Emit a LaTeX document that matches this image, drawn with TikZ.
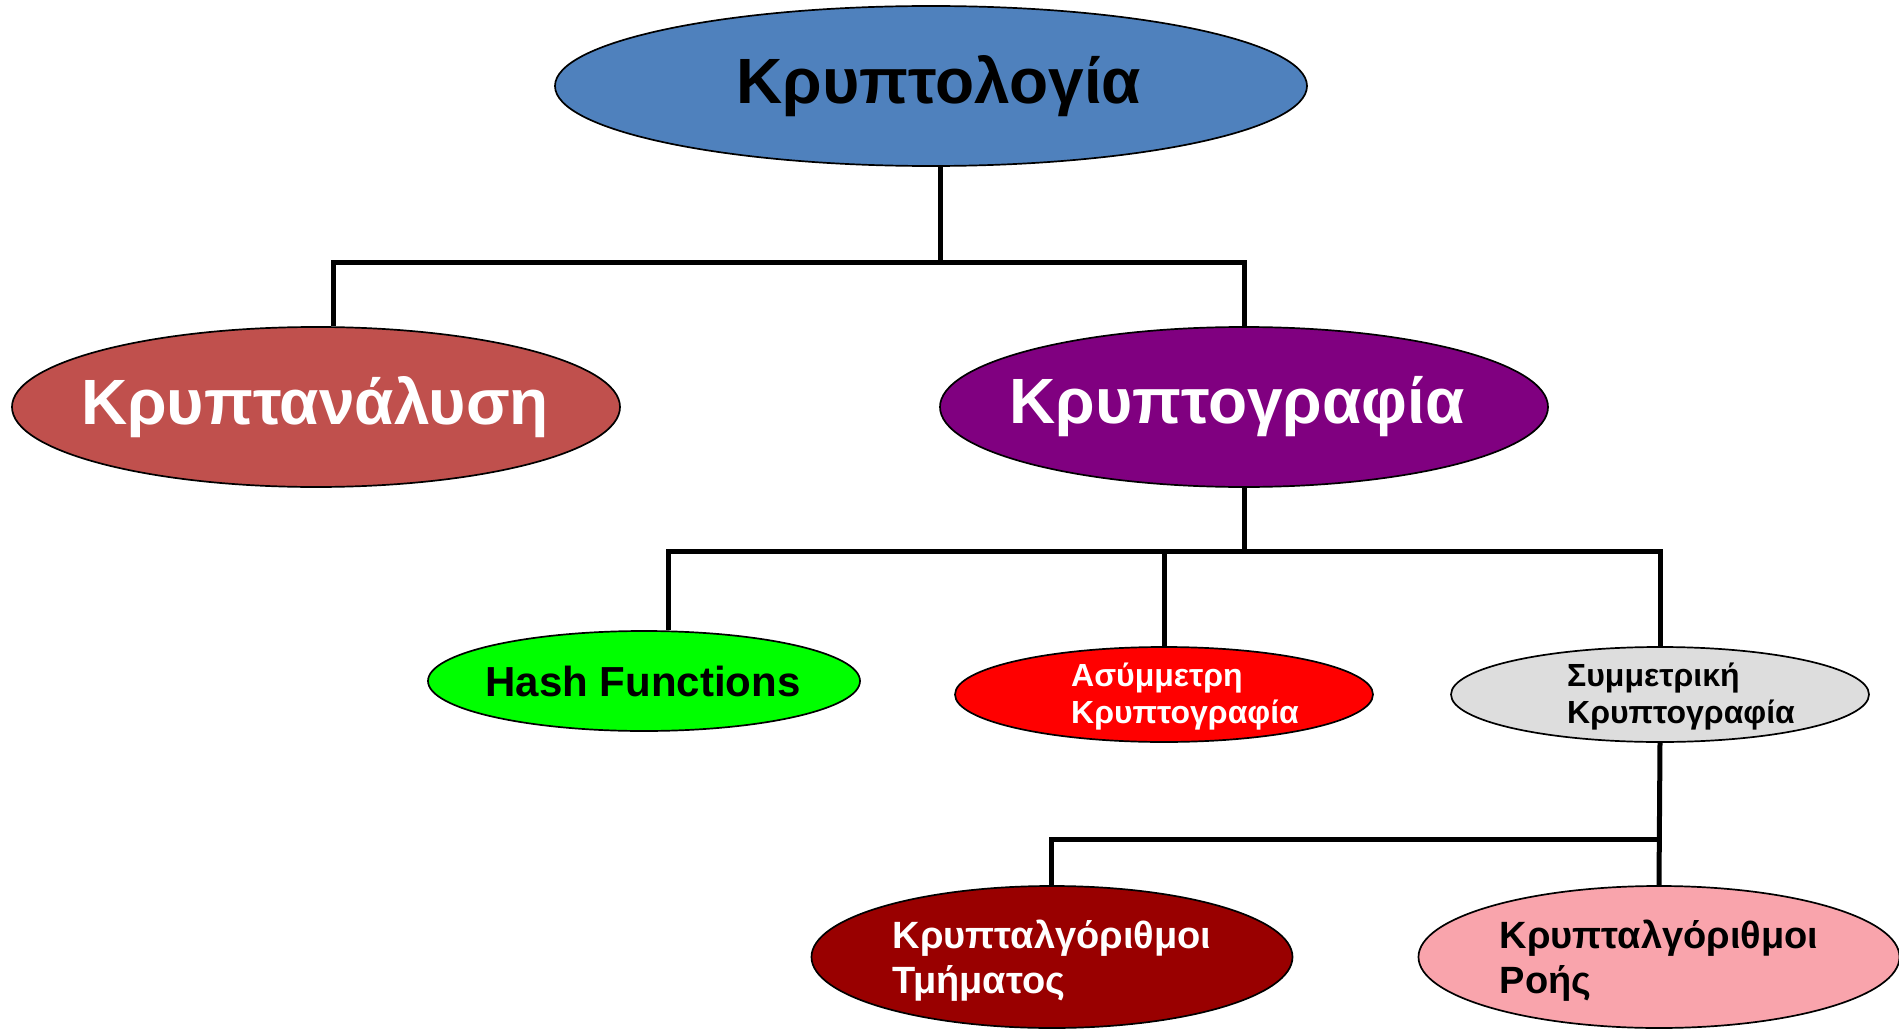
\documentclass[tikz,border=0pt]{standalone}
\usepackage{fontspec}
\setmainfont{Liberation Sans}
\usetikzlibrary{shapes.geometric,backgrounds}
\definecolor{cblue}{HTML}{4F81BD}
\definecolor{cbrick}{HTML}{C0504D}
\definecolor{cpurple}{HTML}{800080}
\definecolor{cgreen}{HTML}{00FF00}
\definecolor{cred}{HTML}{FF0000}
\definecolor{cgray}{HTML}{DDDDDD}
\definecolor{cdark}{HTML}{990000}
\definecolor{cpink}{HTML}{F9A4AC}
\begin{document}
\begin{tikzpicture}[x=1pt,y=-1pt,
  ell/.style={ellipse,draw=black,line width=1.7pt,inner sep=0pt},
  big/.style={ell,minimum width=608pt,minimum height=160pt},
  mid/.style={ell,minimum width=418pt,minimum height=95pt},
  low/.style={ell,minimum width=481pt,minimum height=142pt},
  bigt/.style={inner sep=0pt,font=\bfseries\fontsize{64}{77}\selectfont},
  lbl/.style={inner sep=0pt,align=left,font=\bfseries\fontsize{32}{37}\selectfont},
  lowt/.style={inner sep=0pt,align=left,font=\bfseries\fontsize{38}{45}\selectfont},
  conn/.style={line width=5pt,line join=miter}]
\useasboundingbox (0,0) rectangle (1899,1030);
\node[big,minimum width=752pt,fill=cblue] (top) at (931,86) {};
\node[bigt,text=black] (topt) at (939,86) {Κρυπτολογία};
\node[big,fill=cbrick] (an) at (316,407) {};
\node[bigt,text=white] (ant) at (315,407) {Κρυπτανάλυση};
\node[big,fill=cpurple] (kg) at (1244,407) {};
\node[bigt,text=white] (kgt) at (1237,407) {Κρυπτογραφία};
\node[ell,minimum width=432pt,minimum height=100pt,fill=cgreen] (hash) at (644,681) {};
\node[inner sep=0pt,text=black,font=\bfseries\fontsize{42}{50}\selectfont] (hasht) at (643,681) {Hash Functions};
\node[mid,fill=cred] (asym) at (1164,694.5) {};
\node[lbl,text=white] (asymt) at (1185,697) {Ασύμμετρη\\Κρυπτογραφία};
\node[mid,fill=cgray] (sym) at (1660,694.5) {};
\node[lbl,text=black] (symt) at (1681,697) {Συμμετρική\\Κρυπτογραφία};
\node[low,fill=cdark] (block) at (1052,957) {};
\node[lowt,text=white] (blockt) at (1052,961) {Κρυπταλγόριθμοι\\Τμήματος};
\node[low,fill=cpink] (stream) at (1659,957) {};
\node[lowt,text=black] (streamt) at (1659,961) {Κρυπταλγόριθμοι\\Ροής};
\coordinate (b1t) at (940,262);
\coordinate (b1l) at (333,262);
\coordinate (b1r) at (1244,262);
\coordinate (b2l) at (668,551);
\coordinate (b2r) at (1660,551);
\coordinate (b3l) at (1051,839);
\coordinate (b3r) at (1660,839);
\begin{scope}[on background layer]
\draw[conn] (b1t |- top.south) -- (b1t);
\draw[conn] (an.north -| b1l) -- (b1l) -- (b1r) -- (kg.north);
\draw[conn] (kg.south) -- (kg.south |- b2l);
\draw[conn] (hash.north -| b2l) -- (b2l) -- (b2r) -- (sym.north);
\draw[conn] (asym.north) -- (asym.north |- b2l);
\draw[conn] (sym.south) -- (stream.north);
\draw[conn] (b3r) -- (b3l) -- (block.north -| b3l);
\end{scope}
\end{tikzpicture}
\end{document}
